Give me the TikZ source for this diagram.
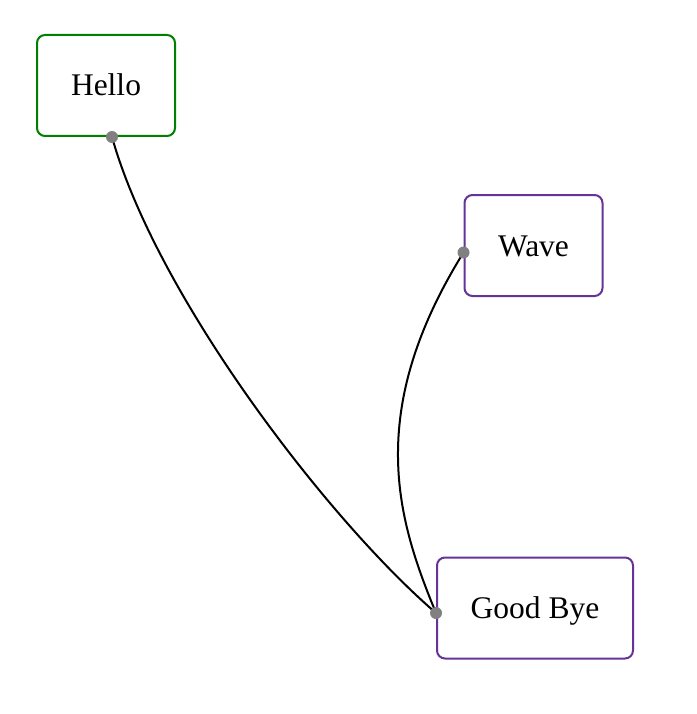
\documentclass[tikz,border=0pt]{standalone}
\usepackage{fontspec}
\setmainfont{Liberation Serif}
\usetikzlibrary{calc}
\definecolor{boxgreen}{HTML}{008000}
\definecolor{boxpurple}{HTML}{663399}
\definecolor{dotgray}{HTML}{808080}
\begin{document}
\begin{tikzpicture}[x=1pt,y=-1pt,
  box/.style={draw=#1, line width=2pt, rounded corners=8pt, fill=white,
    inner sep=0pt, minimum height=101pt, text height=21pt, text depth=0pt,
    font=\fontsize{31.5}{36}\selectfont},
  conn/.style={draw=black, line width=2pt},
  port/.style={fill=dotgray, draw=none}]
\path[use as bounding box] (0,0) rectangle (696,714);
\node[box=boxgreen, minimum width=138pt] (hello) at (106,85.5) {Hello};
\node[box=boxpurple, minimum width=138pt] (wave) at (533.5,245.5) {Wave};
\node[box=boxpurple, minimum width=196pt] (bye) at (535,608) {Good Bye};
\coordinate (hd) at ($(hello.south)+(6,0)$);
\coordinate (wd) at ($(wave.west)+(0,7)$);
\coordinate (bd) at ($(bye.west)+(0,5)$);
\draw[conn] (hd) .. controls +(45,160) and +(-108,-93) .. (bd);
\draw[conn] (wd) .. controls +(-100,161) and +(-38,-92) .. (bd);
\fill[port] (hd) circle (6pt);
\fill[port] (wd) circle (6pt);
\fill[port] (bd) circle (6pt);
\end{tikzpicture}
\end{document}
